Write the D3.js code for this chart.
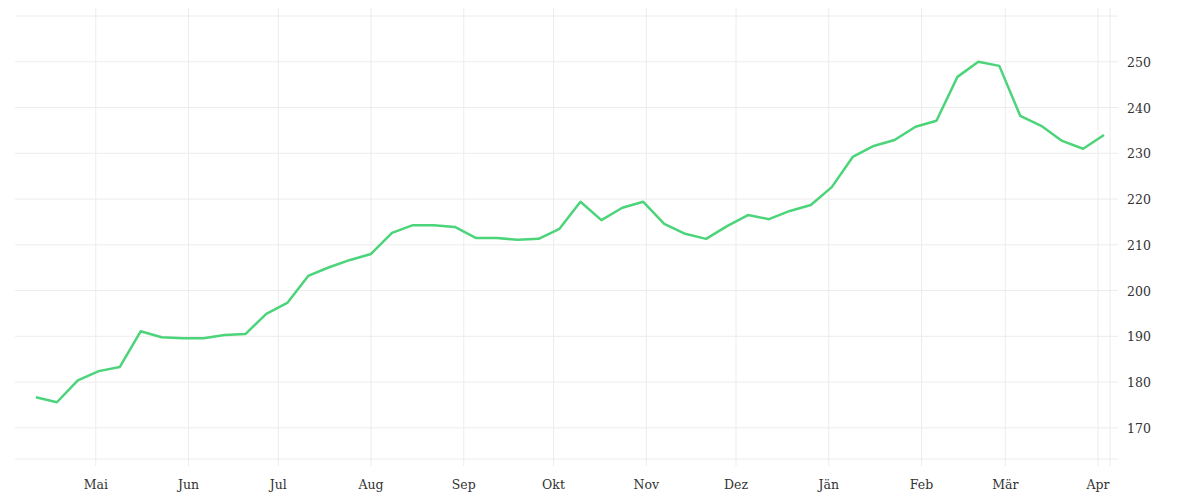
<!DOCTYPE html>
<html><head><meta charset="utf-8">
<script src="https://cdn.jsdelivr.net/npm/d3@7"></script>
<style>body{margin:0;background:#fff}</style></head>
<body><svg id="c" width="1200" height="500"></svg>
<script>
const startDate = "2021-04-11";
const values = [176.7,175.6,180.4,182.4,183.3,191.1,189.8,189.6,189.6,190.3,190.5,194.9,197.3,203.2,205.1,206.7,208.0,212.6,214.3,214.3,213.9,211.5,211.5,211.1,211.3,213.5,219.4,215.4,218.1,219.4,214.6,212.4,211.3,214.1,216.5,215.6,217.4,218.7,222.6,229.2,231.6,232.9,235.8,237.1,246.7,250.0,249.1,238.2,236.0,232.7,231.0,234.0];
const monthLabels = ["Mai","Jun","Jul","Aug","Sep","Okt","Nov","Dez","Jän","Feb","Mär","Apr"];
const yTicks = [170,180,190,200,210,220,230,240,250];

const svg = d3.select("#c");
const L=15,R=1110,T=16,B=459;
const t0 = d3.timeParse("%Y-%m-%d")(startDate);
const data = values.map((v,i)=>({d:d3.timeDay.offset(t0,i*7),v}));
const x = d3.scaleTime().domain([new Date(2021,3,4),new Date(2022,3,5)]).range([L,R]);
const y = d3.scaleLinear().domain([163.2,260]).range([B,T]);
const months = d3.timeMonths(new Date(2021,4,1),new Date(2022,3,2));
const g = svg.append("g");
g.selectAll(".vg").data(months).join("line").attr("x1",d=>x(d)).attr("x2",d=>x(d))
 .attr("y1",8).attr("y2",466).attr("stroke","#ececec");
g.selectAll(".hg").data([...yTicks,260]).join("line").attr("x1",L).attr("x2",R+8)
 .attr("y1",d=>y(d)).attr("y2",d=>y(d)).attr("stroke","#ececec");
g.append("line").attr("x1",L).attr("x2",R+8).attr("y1",B).attr("y2",B).attr("stroke","#ececec");
g.append("line").attr("x1",R).attr("x2",R).attr("y1",8).attr("y2",466).attr("stroke","#ececec");
g.selectAll(".xl").data(months).join("text").attr("x",d=>x(d)).attr("y",489)
 .attr("text-anchor","middle").attr("font-family","DejaVu Serif, serif").attr("font-size",12.5)
 .attr("fill","#333").text((d,i)=>monthLabels[i]);
g.selectAll(".yl").data(yTicks).join("text").attr("x",1127).attr("y",d=>y(d)+5)
 .attr("font-family","DejaVu Serif, serif").attr("font-size",12.5).attr("fill","#333").text(d=>d);
svg.append("path").datum(data).attr("fill","none").attr("stroke","#4cd47a").attr("stroke-width",2.5)
 .attr("stroke-linejoin","round").attr("d",d3.line().x(d=>x(d.d)).y(d=>y(d.v)));
</script></body></html>
